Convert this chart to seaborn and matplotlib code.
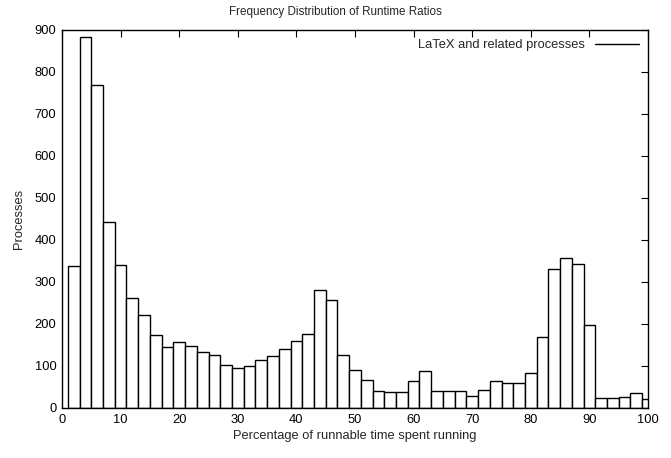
import numpy as np
import pandas as pd
import matplotlib
matplotlib.use("Agg")
import matplotlib.pyplot as plt
from matplotlib.lines import Line2D
import seaborn as sns

# Bin centers (percentage of runnable time spent running) and process counts
centers = [2, 4, 6, 8, 10, 12, 14, 16, 18, 20,
           22, 24, 26, 28, 30, 32, 34, 36, 38, 40,
           42, 44, 46, 48, 50, 52, 54, 56, 58, 60,
           62, 64, 66, 68, 70, 72, 74, 76, 78, 80,
           82, 84, 86, 88, 90, 92, 94, 96, 98, 100]
counts = [337, 884, 770, 442, 341, 262, 222, 173, 146, 156,
          148, 133, 127, 103, 95, 100, 115, 123, 141, 160,
          177, 280, 258, 127, 90, 67, 40, 39, 37, 64,
          89, 41, 41, 40, 29, 44, 65, 60, 60, 84,
          170, 332, 357, 342, 198, 25, 23, 27, 36, 21]
series_label = "LaTeX and related processes"
title = "Frequency Distribution of Runtime Ratios"
xlabel = "Percentage of runnable time spent running"
ylabel = "Processes"
xticks = [0, 10, 20, 30, 40, 50, 60, 70, 80, 90, 100]
yticks = [0, 100, 200, 300, 400, 500, 600, 700, 800, 900]

df = pd.DataFrame({"pct": centers, "n": counts})

sns.set_theme(style="white")
plt.rcParams["font.family"] = ["Liberation Sans", "DejaVu Sans"]

fs = 9.3
fig = plt.figure(figsize=(6.71, 4.58), dpi=100)
ax = fig.add_axes([62 / 671, 1 - 408 / 458, (648 - 62) / 671, (408 - 30) / 458])

sns.barplot(data=df, x="pct", y="n", native_scale=True, width=1.0,
            color="white", edgecolor="black", linewidth=1.0, ax=ax,
            saturation=1, errorbar=None)

ax.set_xlim(0, 100)
ax.set_ylim(0, 900)
ax.set_xticks(xticks)
ax.set_yticks(yticks)
ax.tick_params(axis="both", direction="in", top=True, right=True,
               length=5, width=0.8, labelsize=fs, colors="black", pad=4)
for s in ax.spines.values():
    s.set_visible(True)
    s.set_color("black")
    s.set_linewidth(1.0)

fig.text(0.5, 1 - 12 / 458, title, fontsize=8.4, ha="center", va="center")
ax.set_xlabel(xlabel, fontsize=fs, labelpad=3)
ax.set_ylabel(ylabel, fontsize=fs, labelpad=7)

handle = Line2D([], [], color="black", lw=1.0)
ax.legend([handle], [series_label], loc="upper right", frameon=False,
          markerfirst=False, fontsize=fs, handlelength=3.4,
          borderaxespad=0.3, handletextpad=0.8)

fig.savefig("out.png", dpi=100)
